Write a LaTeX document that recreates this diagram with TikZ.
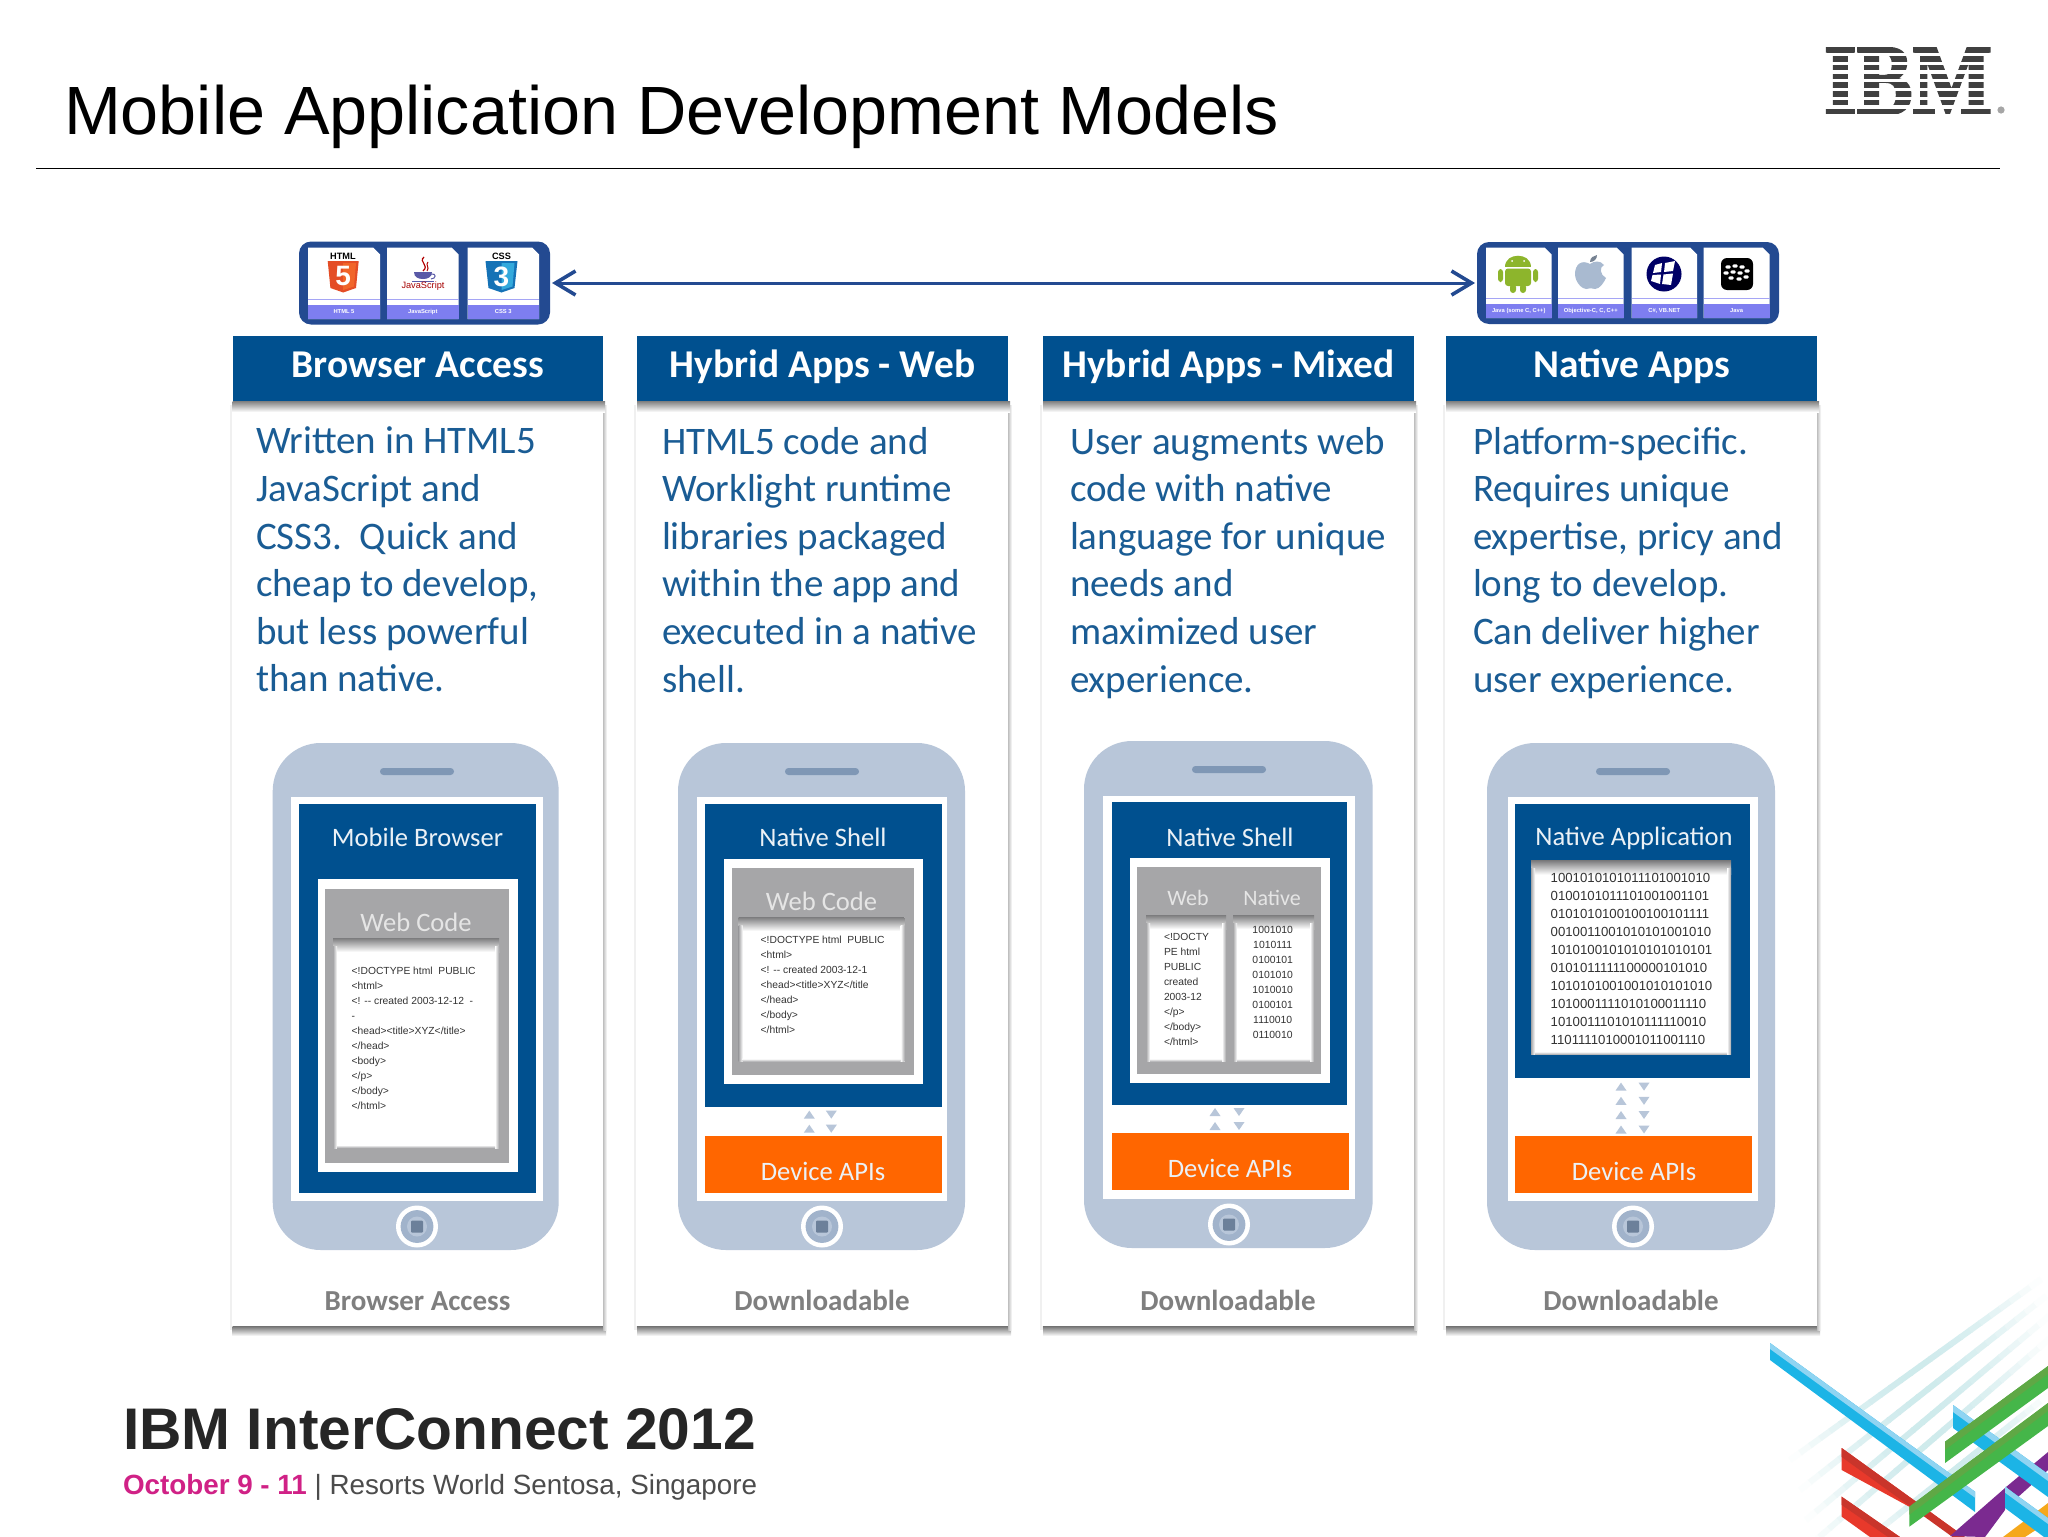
\documentclass[tikz,border=0pt]{standalone}
\usepackage{fontspec}
\usetikzlibrary{arrows.meta,calc}
\setmainfont{Carlito}
\newfontfamily\arl{Liberation Sans}
\newfontfamily\srf[FakeBold=2.5]{Liberation Serif}
\newcommand\fz[1]{\fontsize{#1}{#1}\selectfont}
\definecolor{hdr}{HTML}{00508F}
\definecolor{bodyblue}{HTML}{1A5C94}
\definecolor{phonec}{HTML}{B8C6D9}
\definecolor{spk}{HTML}{7F97B5}
\definecolor{panel}{HTML}{A6A6A8}
\definecolor{apiorange}{HTML}{FF6600}
\definecolor{framec}{HTML}{234A91}
\definecolor{lav}{HTML}{7E7EF0}
\definecolor{lbl}{HTML}{7F7F7F}
\definecolor{paleS}{HTML}{BFE4E6}
\definecolor{blueA}{HTML}{1CB4E6}
\definecolor{blueB}{HTML}{8FD4F2}
\definecolor{redA}{HTML}{E8392B}
\definecolor{redB}{HTML}{C9352B}
\definecolor{greenA}{HTML}{45B649}
\definecolor{greenB}{HTML}{5FA845}
\definecolor{purp}{HTML}{7B2A90}
\definecolor{orgA}{HTML}{F5A81C}
\definecolor{andr}{HTML}{8DB52C}
\definecolor{htmlA}{HTML}{E44D26}
\definecolor{htmlB}{HTML}{F16529}
\definecolor{cssA}{HTML}{1572B6}
\definecolor{cssB}{HTML}{33A9DC}
\definecolor{applec}{HTML}{A9BAD0}
\tikzset{
 txt/.style={inner sep=0pt,outer sep=0pt},
 whitehead/.style={txt,anchor=base,text=white,font=\bfseries\fz{19.7}},
 bodytxt/.style={txt,anchor=north west,align=left,text=bodyblue,font=\fontsize{19.5}{23.8}\selectfont},
 foot/.style={txt,anchor=base,text=lbl,font=\bfseries\fz{14.5}},
 ptitle/.style={txt,text=white!92!hdr,font=\fz{13.3}},
 codetxt/.style={txt,anchor=north west,align=left,text=black!80,font=\arl\fontsize{5.15}{7.5}\selectfont},
 tinylab/.style={txt,text=white,font=\arl\bfseries\fz{2.9}},
 tiletitle/.style={txt,text=black,font=\arl\bfseries\fz{4.6}},
 framebox/.style={fill=framec,rounded corners=6pt,inner sep=0pt,outer sep=0pt},
}
\newcommand\rc[5]{\fill[#1] (#2,#3) rectangle (#4,#5);}
% card: id, x1, x2, header
\newcommand\card[4]{%
 \fill[black!6] (#2-3,405) rectangle (#3+3,1330);
 \fill[white] (#2-1,405) rectangle (#3,1326);
 \shade[top color=black!55,bottom color=white] (#2,1326) rectangle (#3+3,1336);
 \shade[left color=black!25,right color=white] (#3,405) rectangle (#3+4,1330);
 \shade[top color=black!50,bottom color=white] (#2,401) rectangle (#3+2,412);
 \rc{hdr}{#2}{336}{#3}{401}
 \node[whitehead] (head#1) at ({(#2+#3)/2},377) {#4};
}
\newcommand\phone[6]{% id x1 y1 x2 y2 (home/speaker center x)=#6
 \fill[phonec,rounded corners=24pt] (#2,#3) rectangle (#4,#5);
 \fill[spk,rounded corners=1.7pt] (#6-37,#3+25) rectangle (#6+37,#3+32);
 \fill[white] (#6,#5-23.5) circle (10.5pt);
 \fill[phonec!60!spk] (#6,#5-23.5) circle (8.2pt);
 \fill[phonec] (#6,#5-23.5) circle (5pt);
 \fill[spk!85!black,rounded corners=0.5pt] (#6-6,#5-29.5) rectangle (#6+6,#5-17.5);
}
\newcommand\codepanel[4]{%
 \rc{white}{#1}{#2}{#3}{#4}
 \shade[top color=panel!75!black,bottom color=white] (#1,#2) rectangle (#3,#2+14);
 \shade[left color=panel,right color=white] (#1,#2+8) rectangle (#1+4,#4);
 \shade[left color=white,right color=panel] (#3-4,#2+8) rectangle (#3,#4);
 \shade[top color=white,bottom color=panel] (#1+4,#4-3) rectangle (#3-4,#4);
}
\newcommand\upT[2]{\fill[phonec] (#1-5.5,#2+4) -- (#1+5.5,#2+4) -- (#1,#2-4) -- cycle;}
\newcommand\dnT[2]{\fill[phonec] (#1-5.5,#2-4) -- (#1+5.5,#2-4) -- (#1,#2+4) -- cycle;}
\newcommand\tile[6]{% x1 x2 y1 y2 name label
 \fill[white] (#1,#3) -- (#2-7,#3) -- (#2,#3+7) -- (#2,#4) -- (#1,#4) -- cycle;
 \rc{lav}{#1}{#4-14}{#2}{#4}
 \rc{lav!70}{#1}{#4-20}{#2}{#4-19}
 \node[tinylab] (#5) at ({(#1+#2)/2},#4-7) {#6};
}
\newcommand\palestripe[4]{%
 \coordinate (pa) at (#1,#2); \coordinate (pb) at (#3,#4);
 \foreach \tv in {0,0.04,...,0.97}{%
  \pgfmathsetmacro{\opac}{75*sin(180*(\tv+0.02))}%
  \pgfmathsetmacro{\tend}{\tv+0.045}%
  \draw[line width=3pt,paleS!\opac!white] ($(pa)!\tv!(pb)$) -- ($(pa)!\tend!(pb)$);
 }%
}
\newcommand\ribbon[9]{%bar: color lightcolor  x1 y1top y1low x2 y2top y2low  split
 \fill[#1] (#3,#4) -- (#6,#7) -- (#6,#8) -- (#3,#5) -- cycle;
 \fill[#2] (#3,#4) -- (#6,#7) -- (#6,#7+#9) -- (#3,#4+#9) -- cycle;
}
\begin{document}
\begin{tikzpicture}[x=0.5pt,y=-0.5pt]
\useasboundingbox (0,0) rectangle (2048,1536);
\fill[white] (0,0) rectangle (2048,1536);

% title
\node[txt,anchor=base west,font=\arl\fz{34.15},text=black] (title) at (64,134) {Mobile Application Development Models};
\draw[black,line width=0.8pt] (36,168.5) -- (2000,168.5);

% IBM logo
\node[txt,font=\srf\bfseries\fz{42},text=black!75,inner sep=0pt] (ibm) at (1908,81) {\scalebox{1}[1.2]{IBM}};
\foreach \yy/\hh in {43/4,54.5/1.8,63.4/1.8,71.9/1.8,80.5/1.8,89.5/1.8,98.4/1.8,107.2/1.8,119/4.5}{\fill[white] (1812,\yy-\hh) rectangle (1998,\yy+\hh);}
\fill[black!35] (2001,110) circle (1.8pt);

% cards
\card{a}{232.5}{603}{Browser Access}
\card{b}{637}{1008}{Hybrid Apps - Web}
\card{c}{1043}{1414}{Hybrid Apps - Mixed}
\card{d}{1446}{1817}{Native Apps}

\node[bodytxt] (ba) at (256,427) {Written in HTML5\\JavaScript and\\CSS3.\ \ Quick and\\cheap to develop,\\but less powerful\\than native.};
\node[bodytxt] (bb) at (662,427) {HTML5 code and\\Worklight runtime\\libraries packaged\\within the app and\\executed in a native\\shell.};
\node[bodytxt] (bc) at (1070,427) {User augments web\\code with native\\language for unique\\needs and\\maximized user\\experience.};
\node[bodytxt] (bd) at (1473,427) {Platform-specific.\\Requires unique\\expertise, pricy and\\long to develop.\\Can deliver higher\\user experience.};

\node[foot] (fa) at (417.5,1310) {Browser Access};
\node[foot] (fb) at (822,1310) {Downloadable};
\node[foot] (fc) at (1228,1310) {Downloadable};
\node[foot] (fd) at (1631,1310) {Downloadable};

% phone 1
\phone{a}{272.7}{743}{558.7}{1250}{417}
\rc{white}{291}{797}{543}{1200.5}
\rc{hdr}{298.5}{803.6}{535.5}{1193}
\rc{white}{317.7}{878.7}{518}{1172}
\rc{panel}{325}{889}{509}{1163}
\codepanel{333}{938}{499}{1148}
\node[ptitle] (pa) at (417.5,837) {Mobile Browser};
\node[txt,text=white!90!black,font=\fz{13.3}] (wa) at (416,922) {Web Code};
\node[codetxt] at (351.7,967.5) (ca) {<!DOCTYPE html\ \ PUBLIC\\<html>\\<! -- created 2003-12-12\ \ -\\-\\<head><title>XYZ</title>\\</head>\\<body>\\</p>\\</body>\\</html>};

% phone 2
\phone{b}{678}{743}{965}{1250}{822}
\rc{white}{697}{797}{947}{1200.5}
\rc{hdr}{704.7}{803.6}{941.7}{1106.6}
\rc{white}{723.7}{859}{922.7}{1084}
\rc{panel}{731.5}{868}{913.7}{1074.7}
\codepanel{738.7}{917}{904.7}{1061.7}
\rc{apiorange}{704.7}{1136.4}{941.7}{1193}
\node[ptitle] (pb) at (823,837) {Native Shell};
\node[txt,text=white!90!black,font=\fz{13.3}] (wb) at (821.5,901) {Web Code};
\node[codetxt] at (760.7,936) (cb) {<!DOCTYPE html\ \ PUBLIC\\<html>\\<! -- created 2003-12-1\\<head><title>XYZ</title\\</head>\\</body>\\</html>};
\node[ptitle] (ab) at (823,1171) {Device APIs};
\upT{809.3}{1114.6}\upT{809.3}{1128.7}\dnT{831.3}{1114.6}\dnT{831.3}{1128.7}

% phone 3
\phone{c}{1084}{741}{1372.7}{1248}{1229}
\rc{white}{1103.3}{795.5}{1355}{1198.5}
\rc{hdr}{1112}{802.4}{1347}{1105}
\rc{white}{1129.7}{857.6}{1329.7}{1082.6}
\rc{panel}{1137}{866.5}{1320.7}{1073.5}
\codepanel{1146}{915}{1226}{1061.7}
\codepanel{1233}{915}{1314}{1061.7}
\rc{apiorange}{1112}{1133}{1349}{1190}
\node[ptitle] (pc) at (1230,837) {Native Shell};
\node[txt,text=white!90!black,font=\fz{11}] (wc) at (1188,898) {Web};
\node[txt,text=white!90!black,font=\fz{11}] (nc) at (1272,898) {Native};
\node[codetxt] at (1164,933.5) (cc) {<!DOCTY\\PE html\\PUBLIC\\created\\2003-12\\</p>\\</body>\\</html>};
\node[codetxt,align=center,anchor=north,font=\arl\fontsize{5.2}{7.5}\selectfont] at (1272.7,926.5) (cn) {1001010\\1010111\\0100101\\0101010\\1010010\\0100101\\1110010\\0110010};
\node[ptitle] (ac) at (1230,1168) {Device APIs};
\upT{1215}{1112}\upT{1215}{1126}\dnT{1239}{1112}\dnT{1239}{1126}

% phone 4
\phone{d}{1487}{743}{1775}{1250}{1633}
\rc{white}{1507.7}{797}{1758}{1200.5}
\rc{hdr}{1515}{803.6}{1750}{1078}
\codepanel{1531}{860.6}{1731}{1054.6}
\rc{apiorange}{1515}{1136.4}{1752}{1193}
\node[ptitle] (pd) at (1634,838) {Native Application};
\node[codetxt,font=\arl\fontsize{6.6}{9}\selectfont] at (1550.7,873.5) (cd) {1001010101011101001010\\0100101011101001001101\\0101010100100100101111\\0010011001010101001010\\1010100101010101010101\\0101011111100000101010\\1010101001001010101010\\1010001111010100011110\\1010011101010111110010\\1101111010001011001110};
\node[ptitle] (ad) at (1634,1171) {Device APIs};
\foreach \yy in {1086.6,1100.8,1115,1129.5}{\upT{1621}{\yy}\dnT{1644}{\yy}}

% frames
\node[framebox,minimum width=125.5pt,minimum height=41.5pt] (frameL) at (424.5,283) {};
\node[framebox,minimum width=151pt,minimum height=41pt] (frameR) at (1628,283) {};
\draw[{Straight Barb[length=10pt,width=12pt,line width=1.8pt]}-{Straight Barb[length=10pt,width=12pt,line width=1.8pt]},framec,line width=1.5pt,shorten <=1pt,shorten >=1pt] (frameL.east) -- (frameR.west);

\tile{308}{380}{247.5}{319}{la}{HTML 5}
\tile{387}{458.6}{247.5}{319}{lb}{JavaScript}
\tile{467.6}{539}{247.5}{319}{lc}{CSS 3}
\tile{1486}{1551.5}{247.5}{318}{ld}{Java (some C, C++)}
\tile{1558}{1623.5}{247.5}{318}{le}{Objective-C, C, C++}
\tile{1631.5}{1697}{247.5}{318}{lf}{C\#, VB.NET}
\tile{1703.5}{1769.5}{247.5}{318}{lg}{Java}

% HTML5 icon
\node[tiletitle] (th) at (343,256) {HTML};
\fill[htmlA] (327.7,261) -- (358.7,261) -- (356,288) -- (343.2,292.5) -- (330.4,288) -- cycle;
\fill[htmlB] (343.2,263) -- (356,263) -- (354,286.5) -- (343.2,290) -- cycle;
\node[txt,text=white,font=\arl\bfseries\fz{14}] (n5) at (343.2,276.5) {5};
% CSS icon
\node[tiletitle] (tc) at (501.5,256) {CSS};
\fill[cssA] (485.5,261) -- (517.5,261) -- (514.5,288) -- (501.5,292.5) -- (488.5,288) -- cycle;
\fill[cssB] (501.5,263) -- (514.5,263) -- (512.5,286.5) -- (501.5,290) -- cycle;
\node[txt,text=white,font=\arl\bfseries\fz{14}] (n3) at (501.5,276.5) {3};
% JS icon
\draw[red!70!black,line width=0.6pt] (424,257) .. controls (418,262) and (430,265) .. (423,271);
\draw[red!70!black,line width=0.5pt] (428,262) .. controls (425,265) and (430,267) .. (427,271);
\fill[blue!30!gray] (414,272) -- (432,272) .. controls (432,277) and (428,279) .. (423,279) .. controls (418,279) and (414,277) .. (414,272) -- cycle;
\draw[blue!30!gray,line width=0.5pt] (431,274) .. controls (437,273) and (436,279) .. (431,279);
\fill[blue!30!gray] (412,280.5) rectangle (434,281.5);
\node[txt,text=red!65!black,font=\arl\fz{4.6}] (tj) at (423,286.5) {JavaScript};

% Android
\fill[andr] (1505,267) .. controls (1505,252) and (1531,252) .. (1531,267) -- cycle;
\draw[andr,line width=0.5pt] (1510,258) -- (1513,263) (1526,258) -- (1523,263);
\fill[andr,rounded corners=1.5pt] (1505,268.5) rectangle (1531,286);
\fill[andr,rounded corners=1.5pt] (1498,269) rectangle (1503,282);
\fill[andr,rounded corners=1.5pt] (1533,269) rectangle (1538,282);
\fill[andr,rounded corners=1.5pt] (1510,284) rectangle (1516,293);
\fill[andr,rounded corners=1.5pt] (1520,284) rectangle (1526,293);
\fill[white] (1512,261) circle (0.5pt); \fill[white] (1524,261) circle (0.5pt);
% Apple
\fill[applec] (1590,264) .. controls (1581,259) and (1575,265) .. (1575,274) .. controls (1575,282) and (1582,289) .. (1586,289) .. controls (1589,288) and (1592,288) .. (1595,289) .. controls (1600,289) and (1604,282) .. (1606,278) .. controls (1600,275) and (1599,267) .. (1604,265) .. controls (1600,260) and (1594,261) .. (1590,264) -- cycle;
\fill[applec!70!black] (1590,262) .. controls (1590,257) and (1594,256) .. (1597,255) .. controls (1597,259) and (1594,262) .. (1590,262) -- cycle;
% Windows
\fill[blue!40!black] (1664,274) circle (8.75pt);
\fill[white] (1655,265) -- (1662,263) -- (1661,272) -- (1653,273) -- cycle;
\fill[white] (1665,263) -- (1675,261) -- (1673,271) -- (1664,272) -- cycle;
\fill[white] (1652.5,275) -- (1661,274.5) -- (1660,284) -- (1651,281) -- cycle;
\fill[white] (1663.5,274.5) -- (1673,273.5) -- (1671,285) -- (1662,284) -- cycle;
% BlackBerry
\fill[black,rounded corners=3pt] (1721,258) rectangle (1753,290);
\foreach \dx/\dy in {-9/-7,-2/-8,5/-7,-11/-1,-4/-2,3/-1,10/-3,-6/4,2/5,9/3}{
 \fill[white,rounded corners=0.6pt] (1737+\dx-2.6,274+\dy-1.6) rectangle (1737+\dx+2.6,274+\dy+1.6);}

% footer
\node[txt,anchor=base west,font=\arl\bfseries\fz{29.35},text=black!85] (fin) at (123,1449) {IBM InterConnect 2012};
\node[txt,anchor=base west,font=\arl\fz{13.9},text=black!70] (fsub) at (123,1494) {\textcolor{magenta!85!black}{\bfseries October 9 - 11} | Resorts World Sentosa, Singapore};

% stripes
\begin{scope}
\clip (0,0) rectangle (2048,1536);
\palestripe{1790}{1460}{2040}{1280}
\palestripe{1800}{1490}{2045}{1297}
\palestripe{1806}{1520}{2048}{1317}
\palestripe{1810}{1545}{2048}{1340}
\palestripe{1860}{1545}{2048}{1395}
\ribbon{redA}{redB}{1841.7}{1448}{1470}{1965}{1537}{1537}{9}
\fill[redA] (1841.7,1496.7) -- (1900,1537) -- (1870,1537) -- (1841.7,1516.7) -- cycle;
\fill[redB] (1841.7,1496.7) -- (1900,1537) -- (1888,1537) -- (1841.7,1505) -- cycle;
\fill[purp] (1950,1536) -- (2005,1488) -- (2005,1510) -- (1985,1537) -- cycle;
\fill[purp] (2006,1487) -- (2048,1452) -- (2048,1470) -- (2018,1497) -- cycle;
\fill[orgA] (2003,1537) -- (2048,1503) -- (2048,1522) -- (2025,1537) -- cycle;
\ribbon{blueA}{blueB}{1770}{1343}{1360}{1975}{1491.7}{1512}{6}
\ribbon{blueA}{blueB}{1953}{1405}{1428}{2048}{1474}{1497}{7}
\ribbon{blueA}{blueB}{2005}{1486.7}{1508}{2048}{1518}{1540}{6}
\ribbon{greenA}{greenB}{1945}{1441.7}{1463}{2048}{1366}{1388}{8}
\ribbon{greenA}{greenB}{1909.3}{1506.7}{1526.7}{2048}{1403}{1426}{8}
\end{scope}
\end{tikzpicture}
\end{document}
